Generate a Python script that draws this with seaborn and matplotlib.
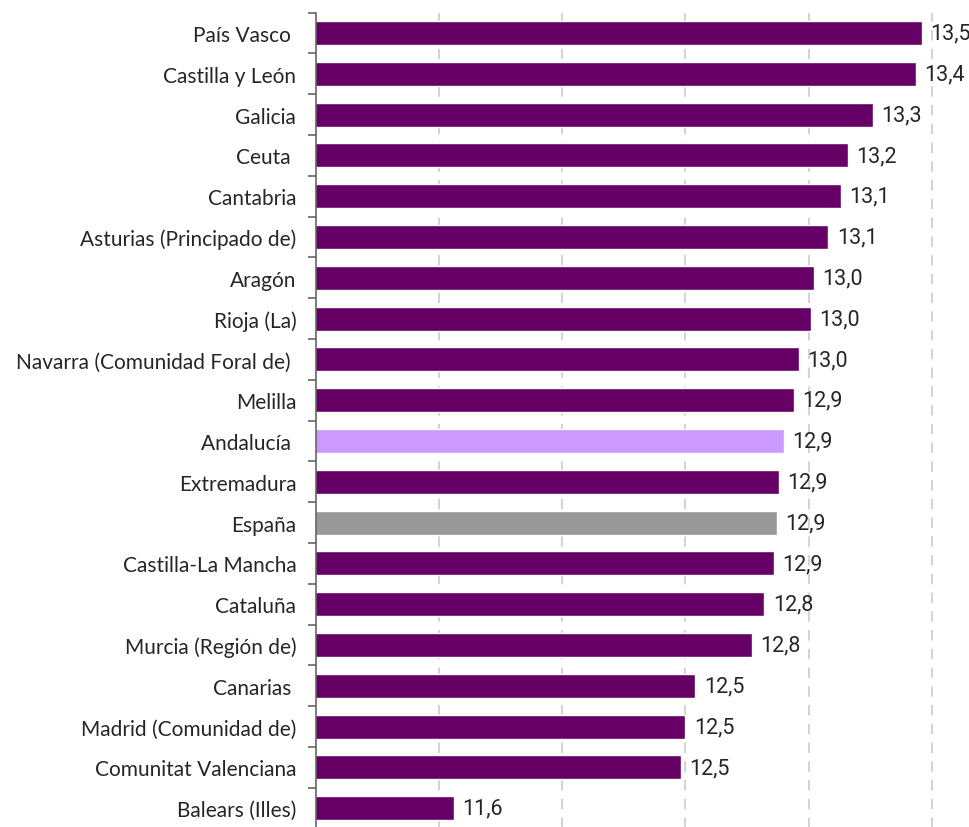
import numpy as np
import matplotlib
matplotlib.use("Agg")
import matplotlib.pyplot as plt
import seaborn as sns

# Data (bar ends, rounded labels shown with comma)
regions = [
    "País Vasco ", "Castilla y León", "Galicia", "Ceuta ", "Cantabria",
    "Asturias (Principado de)", "Aragón", "Rioja (La)",
    "Navarra (Comunidad Foral de) ", "Melilla", "Andalucía ", "Extremadura",
    "España", "Castilla-La Mancha", "Cataluña", "Murcia (Región de)",
    "Canarias ", "Madrid (Comunidad de)", "Comunitat Valenciana", "Balears (Illes)",
]
values = [
    13.46, 13.435, 13.26, 13.16, 13.13,
    13.08, 13.02, 13.01,
    12.96, 12.94, 12.90, 12.88,
    12.87, 12.86, 12.82, 12.77,
    12.54, 12.50, 12.48, 11.56,
]
grid_ticks = [11.5, 12.0, 12.5, 13.0, 13.5]

PURPLE = "#660066"
colors = {r: PURPLE for r in regions}
colors["Andalucía "] = "#CC99FF"
colors["España"] = "#999999"

sns.set_style("white")
plt.rcParams["font.family"] = ["Lato", "DejaVu Sans"]

fig = plt.figure(figsize=(9.7, 8.28), dpi=100)
ax = fig.add_axes([315.75 / 970, -0.002, (960 - 315.75) / 970, 0.9855])

sns.barplot(x=values, y=regions, hue=regions, palette=colors, legend=False,
            width=0.59, saturation=1, ax=ax)

ax.set_xlim(11.0, 11.0 + (960 - 315.75) / 246.5)
ax.set_xticks(grid_ticks)
ax.set_xticklabels([])
ax.tick_params(axis="x", length=0)
ax.grid(axis="x", color="#d4d4d4", linestyle=(0, (5, 4)), linewidth=1.5)
ax.grid(axis="y", visible=False)
ax.set_axisbelow(True)

for side in ["top", "right", "bottom"]:
    ax.spines[side].set_visible(False)
ax.spines["left"].set_color("#666666")
ax.spines["left"].set_linewidth(1.2)

# category labels at centres, tick marks at boundaries
ax.tick_params(axis="y", which="major", left=False, length=0, pad=14,
               labelsize=15, labelcolor="#262626")
ax.set_yticks(np.arange(-0.5, len(regions), 1), minor=True)
ax.tick_params(axis="y", which="minor", left=True, length=6, width=1.2,
               color="#666666")
ax.set_xlabel("")
ax.set_ylabel("")

for cont in ax.containers:
    labels = [f"{b.get_width():.1f}".replace(".", ",") for b in cont]
    ax.bar_label(cont, labels=labels, padding=6, fontsize=15.5,
                 family="Roboto", color="#262626")

fig.savefig("out.png", dpi=100)
